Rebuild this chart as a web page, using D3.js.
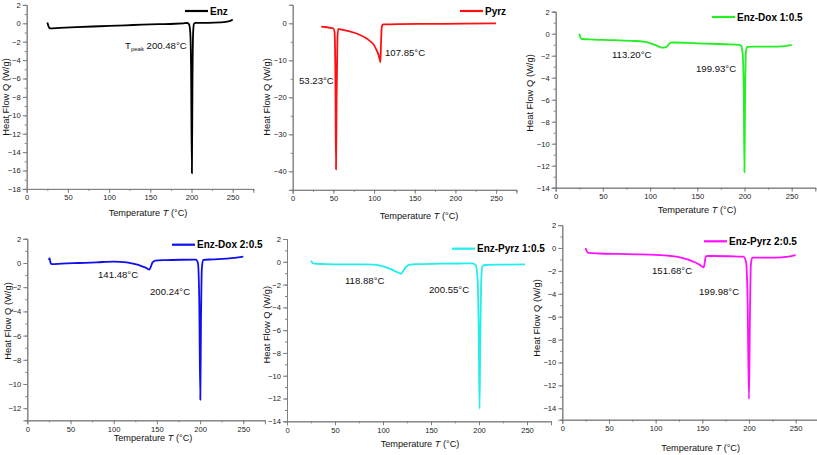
<!DOCTYPE html>
<html>
<head>
<meta charset="utf-8">
<script src="https://cdn.jsdelivr.net/npm/d3@7"></script>
<style>
  body { margin: 0; background: #fff; }
  svg { display: block; font-family: Arial, "Liberation Sans", sans-serif; }
  .axis path, .axis line { stroke: #808080; }
  .axis text { fill: #222; font-size: 7.6px; }
</style>
</head>
<body>
<svg id="chart" width="817" height="455"></svg>
<script>
// DSC traces (T in °C, Q in W/g)
var enzT = [25, 26, 27, 28, 40, 60, 80, 100, 120, 140, 160, 180, 190, 195, 197, 198.5, 199.5, 200.48, 201.2, 202, 203, 205, 220, 235, 245, 250];
var enzQ = [0.1, -0.2, -0.45, -0.55, -0.5, -0.42, -0.35, -0.28, -0.22, -0.15, -0.1, -0.05, 0, 0.03, -0.1, -1, -5, -16.3, -6, -1, -0.05, 0.05, 0.05, 0.1, 0.2, 0.4];

var pyrzT = [35, 40, 45, 50, 51.5, 52.5, 53.23, 54, 55, 56, 60, 70, 80, 90, 95, 100, 103, 105, 107, 107.85, 108.5, 109.5, 111, 130, 170, 210, 250];
var pyrzQ = [-0.9, -1.0, -1.2, -1.4, -2.5, -15, -39.5, -20, -4, -1.5, -1.7, -2.2, -2.9, -4.0, -4.8, -5.9, -7.2, -8.2, -9.8, -10.5, -6, -1, -0.3, -0.2, -0.15, -0.1, 0];

var dox1T = [25, 26, 27.5, 40, 60, 80, 93, 100, 106, 110, 113.2, 116, 118, 120, 122, 125, 140, 160, 180, 194, 196.5, 198, 199.2, 199.93, 200.6, 201.5, 203, 210, 230, 240, 250];
var dox1Q = [0, -0.3, -0.48, -0.53, -0.58, -0.65, -0.72, -0.85, -1.05, -1.2, -1.27, -1.25, -1.15, -0.95, -0.82, -0.8, -0.84, -0.9, -0.96, -1.02, -1.1, -1.8, -5, -12.6, -6, -1.6, -1.2, -1.18, -1.18, -1.15, -1.02];

var dox2T = [25, 25.6, 26.2, 27, 28.5, 40, 60, 80, 100, 115, 125, 132, 137, 141.48, 143, 145, 148, 160, 180, 195, 197.5, 199, 200.24, 201, 202, 203.5, 215, 230, 240, 250];
var dox2Q = [0.25, 0.4, 0.25, 0, -0.1, -0.05, 0, 0.05, 0.12, 0.05, -0.1, -0.25, -0.38, -0.55, -0.3, 0.05, 0.2, 0.24, 0.27, 0.28, 0, -3, -11.3, -5, -0.5, 0.25, 0.3, 0.36, 0.42, 0.52];

var pyrz1T = [25, 26, 28, 40, 60, 80, 90, 100, 108, 114, 118.88, 121, 124, 128, 135, 160, 180, 193, 196.5, 198.5, 199.7, 200.55, 201.3, 202.2, 203.5, 206, 220, 248];
var pyrz1Q = [0.1, -0.05, -0.17, -0.2, -0.22, -0.22, -0.25, -0.4, -0.65, -0.88, -1.05, -0.8, -0.45, -0.25, -0.2, -0.17, -0.15, -0.14, -0.3, -1.5, -6, -12.9, -7, -2, -0.4, -0.28, -0.25, -0.23];

var pyrz2T = [25, 26, 28, 40, 60, 80, 100, 116, 125, 131, 137, 142, 146, 149, 151.68, 152.5, 153.5, 155, 160, 180, 194, 196.8, 198.5, 199.98, 201, 202, 203.5, 215, 230, 240, 250];
var pyrz2Q = [0, -0.25, -0.43, -0.48, -0.52, -0.55, -0.6, -0.7, -0.8, -0.93, -1.08, -1.25, -1.42, -1.58, -1.68, -1.3, -0.8, -0.7, -0.7, -0.72, -0.76, -1.2, -4.5, -13.2, -6, -1.5, -0.85, -0.85, -0.85, -0.78, -0.62];

var seriesNames = ["Enz", "Pyrz", "Enz-Dox 1:0.5", "Enz-Dox 2:0.5", "Enz-Pyrz 1:0.5", "Enz-Pyrz 2:0.5"];
var peakLabels = [["200.48°C"], ["53.23°C", "107.85°C"], ["113.20°C", "199.93°C"], ["141.48°C", "200.24°C"], ["118.88°C", "200.55°C"], ["151.68°C", "199.98°C"]];
var xTicks = [0, 50, 100, 150, 200, 250];

// layout of each panel (pixels)
var panels = [
  { T: enzT, Q: enzQ, color: "#000000", x: [26.7, 253.3], y: [188.9, 4.9], yDom: [-18, 2], yTicks: d3.range(-18, 3, 2),
    yTitle: [6, 97], xTitle: [148, 216], leg: [185, 11], notes: [[125, 45]] },
  { T: pyrzT, Q: pyrzQ, color: "#ff1010", x: [292.7, 516.4], y: [189.8, 4.8], yDom: [-45, 5], yTicks: [-40, -30, -20, -10, 0],
    yTitle: [266.7, 97], xTitle: [419, 219], leg: [460, 11], notes: [[299, 80], [385, 52]] },
  { T: dox1T, Q: dox1Q, color: "#22f022", x: [555.7, 815.3], y: [187.7, 11.7], yDom: [-14, 2], yTicks: d3.range(-14, 3, 2),
    yTitle: [530.3, 93], xTitle: [697, 213], leg: [712, 17], notes: [[612, 54], [696, 68]] },
  { T: dox2T, Q: dox2Q, color: "#1010ee", x: [27.3, 264.9], y: [420.3, 238.8], yDom: [-13, 2], yTicks: d3.range(-12, 3, 2),
    yTitle: [8.3, 321], xTitle: [153, 441], leg: [172, 244.7], notes: [[98, 274.7], [150, 291.3]] },
  { T: pyrz1T, Q: pyrz1Q, color: "#22eeee", x: [287, 551], y: [421.3, 239], yDom: [-14, 2], yTicks: d3.range(-14, 3, 2),
    yTitle: [266.7, 324.7], xTitle: [420, 447], leg: [452, 248.7], notes: [[345, 280.7], [429, 289]] },
  { T: pyrz2T, Q: pyrz2Q, color: "#ff10ff", x: [562.3, 819], y: [419.7, 225.1], yDom: [-15, 2], yTicks: d3.range(-14, 3, 2),
    yTitle: [537, 318], xTitle: [700.7, 451], leg: [704, 241.3], notes: [[652, 270.7], [699, 291.3]] }
];

var svg = d3.select("#chart");

panels.forEach(function(p, i) {
  var x = d3.scaleLinear().domain([0, 275]).range(p.x);
  var y = d3.scaleLinear().domain(p.yDom).range(p.y);
  var g = svg.append("g");

  // minor ticks first, then major
  var yStep = p.yTicks[1] - p.yTicks[0];
  var yMinor = d3.range(p.yDom[0], p.yDom[1] + 0.001, yStep / 2);
  g.append("g").attr("class", "axis").attr("transform", "translate(" + p.x[0] + ",0)")
    .call(d3.axisLeft(y).tickValues(yMinor).tickSize(2).tickFormat(""));
  g.append("g").attr("class", "axis").attr("transform", "translate(" + p.x[0] + ",0)")
    .call(d3.axisLeft(y).tickValues(p.yTicks).tickSize(4).tickPadding(2).tickFormat(d3.format("d")));

  g.append("g").attr("class", "axis").attr("transform", "translate(0," + p.y[0] + ")")
    .call(d3.axisBottom(x).tickValues(d3.range(0, 276, 25)).tickSize(2).tickFormat(""));
  g.append("g").attr("class", "axis").attr("transform", "translate(0," + p.y[0] + ")")
    .call(d3.axisBottom(x).tickValues(xTicks).tickSize(4).tickPadding(2));

  g.selectAll(".axis .domain").attr("stroke-width", 1);

  // axis titles
  var xt = g.append("text").attr("x", p.xTitle[0]).attr("y", p.xTitle[1])
    .attr("text-anchor", "middle").attr("font-size", "9.2px").attr("fill", "#111");
  xt.append("tspan").text("Temperature ");
  xt.append("tspan").attr("font-style", "italic").text("T");
  xt.append("tspan").text(" (°C)");

  g.append("text").attr("transform", "translate(" + (p.yTitle[0] + 3) + "," + p.yTitle[1] + ") rotate(-90)")
    .attr("text-anchor", "middle").attr("font-size", "9.4px").attr("fill", "#111")
    .text("Heat Flow Q (W/g)");

  // trace
  var pts = p.T.map(function(t, k) { return [t, p.Q[k]]; });
  g.append("path").datum(pts)
    .attr("fill", "none").attr("stroke", p.color).attr("stroke-width", 1.8)
    .attr("stroke-linejoin", "round")
    .attr("d", d3.line().x(function(d) { return x(d[0]); }).y(function(d) { return y(d[1]); }).curve(d3.curveMonotoneX));

  // legend
  g.append("line").attr("x1", p.leg[0]).attr("x2", p.leg[0] + 23).attr("y1", p.leg[1]).attr("y2", p.leg[1])
    .attr("stroke", p.color).attr("stroke-width", 2.2);
  g.append("text").attr("x", p.leg[0] + 25).attr("y", p.leg[1] + 3.5)
    .attr("font-size", "10px").attr("font-weight", "bold").attr("fill", "#000")
    .text(seriesNames[i]);

  // peak labels
  p.notes.forEach(function(n, k) {
    var t = g.append("text").attr("x", n[0]).attr("y", n[1] + 3.5)
      .attr("font-size", "9.6px").attr("fill", "#111");
    if (i === 0) {
      t.append("tspan").text("T");
      t.append("tspan").attr("font-size", "6px").attr("dy", 2).text("peak");
      t.append("tspan").attr("dy", -2).text(" " + peakLabels[i][k]);
    } else {
      t.text(peakLabels[i][k]);
    }
  });
});
</script>
</body>
</html>
